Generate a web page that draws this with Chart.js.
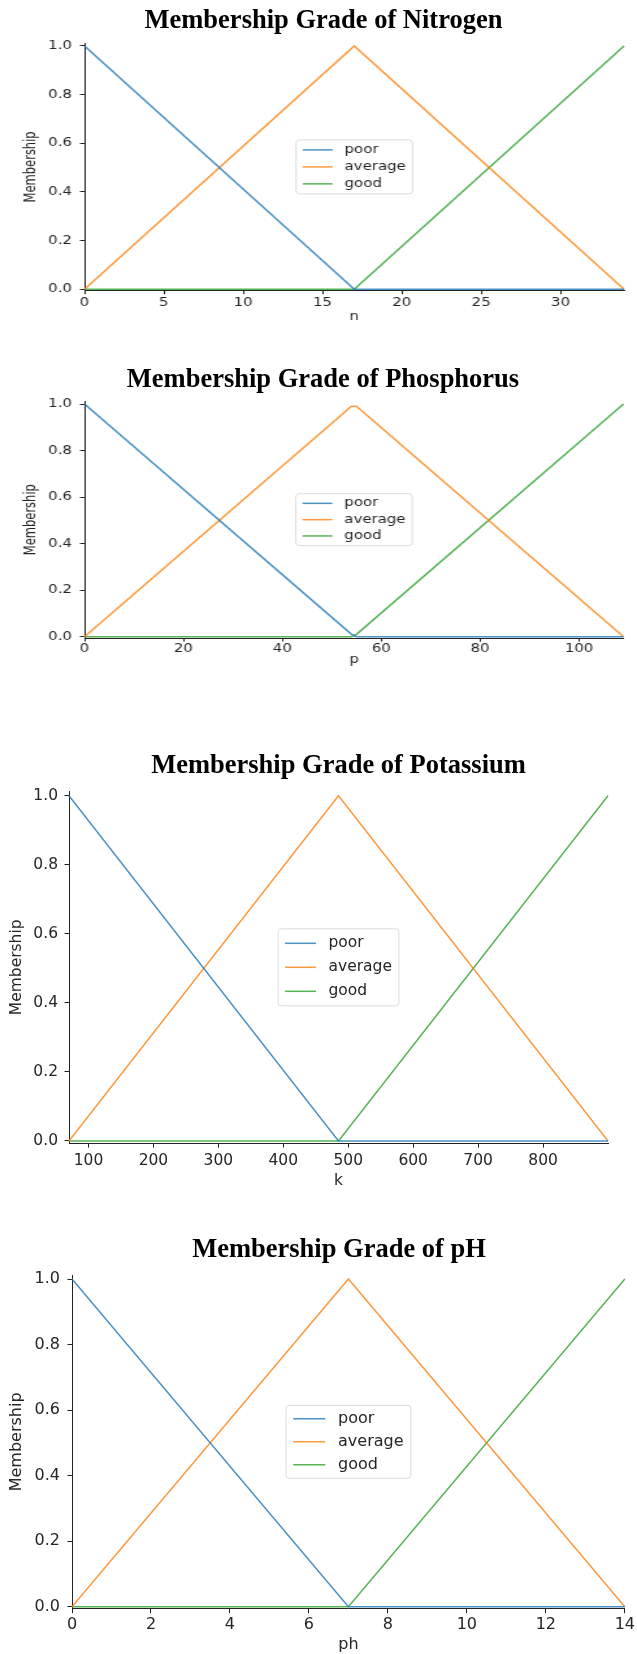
<!DOCTYPE html>
<html>
<head>
<meta charset="utf-8">
<script src="https://cdn.jsdelivr.net/npm/chart.js@4/dist/chart.umd.min.js"></script>
<style>
  body { margin: 0; background: #fff; width: 637px; height: 1654px; position: relative; overflow: hidden; }
  .title { position: absolute; width: 600px; text-align: center; white-space: nowrap;
           font: bold 26.5px 'Liberation Serif', 'Times New Roman', serif; line-height: 1; color: #000; }
  .wrap { position: absolute; left: 0; transform-origin: 0 0; }
  canvas { display: block; }
</style>
</head>
<body>
<div class="wrap" id="w1"><canvas id="c1"></canvas></div>
<div class="wrap" id="w2"><canvas id="c2"></canvas></div>
<div class="wrap" id="w3"><canvas id="c3"></canvas></div>
<div class="wrap" id="w4"><canvas id="c4"></canvas></div>
<script>
// Series shared by all four plots
const seriesNames = ['poor', 'average', 'good'];
const seriesColors = ['rgba(31,119,180,0.8)', 'rgba(255,127,14,0.8)', 'rgba(44,160,44,0.8)'];
const membershipTicks = [0, 0.2, 0.4, 0.6, 0.8, 1.0];

// Nitrogen
const nitrogenX = [0, 17, 34];
const nitrogenPoor = [1, 0, 0];
const nitrogenAverage = [0, 1, 0];
const nitrogenGood = [0, 0, 1];
const nitrogenTicks = [0, 5, 10, 15, 20, 25, 30];

// Phosphorus (sampled on whole numbers, so the peak is a little flat)
const phosphorusX = [0, 54, 55, 109];
const phosphorusPoor = [1, 0.01, 0, 0];
const phosphorusAverage = [0, 0.99, 0.99, 0];
const phosphorusGood = [0, 0, 0.01, 1];
const phosphorusTicks = [0, 20, 40, 60, 80, 100];

// Potassium
const potassiumX = [70, 485, 900];
const potassiumPoor = [1, 0, 0];
const potassiumAverage = [0, 1, 0];
const potassiumGood = [0, 0, 1];
const potassiumTicks = [100, 200, 300, 400, 500, 600, 700, 800];

// pH
const phX = [0, 7, 14];
const phPoor = [1, 0, 0];
const phAverage = [0, 1, 0];
const phGood = [0, 0, 1];
const phTicks = [0, 2, 4, 6, 8, 10, 12, 14];

const panels = [
  { title: 'Membership Grade of Nitrogen', label: 'n', x: nitrogenX, ys: [nitrogenPoor, nitrogenAverage, nitrogenGood], ticks: nitrogenTicks },
  { title: 'Membership Grade of Phosphorus', label: 'p', x: phosphorusX, ys: [phosphorusPoor, phosphorusAverage, phosphorusGood], ticks: phosphorusTicks },
  { title: 'Membership Grade of Potassium', label: 'k', x: potassiumX, ys: [potassiumPoor, potassiumAverage, potassiumGood], ticks: potassiumTicks },
  { title: 'Membership Grade of pH', label: 'ph', x: phX, ys: [phPoor, phAverage, phGood], ticks: phTicks },
];

// Page geometry of each plot (page pixels)
const layouts = [
  { top: 30, bottom: 335, left: 84.5, right: 624, y1: 45.7, y0: 289.3, sx: 1.3, fs: 11.5, tick: 3.5, padX: 1.4, labelRight: 72, yTitleX: 31.5, xTitleY: 317, legendH: 54, legendRow: 17, titleX: 323.5, titleTop: 5.5 },
  { top: 370, bottom: 690, left: 84.5, right: 623.5, y1: 404, y0: 636.7, sx: 1.3, fs: 11.5, tick: 3.5, padX: 0.7, labelRight: 72, yTitleX: 31.5, xTitleY: 660, legendH: 52, legendRow: 16.3, titleX: 323, titleTop: 365 },
  { top: 740, bottom: 1200, left: 69, right: 608, y1: 795.7, y0: 1141, sx: 1, fs: 15.5, tick: 4.5, padX: 4, labelRight: 58, yTitleX: 17, xTitleY: 1181, legendH: 77, legendRow: 24, titleX: 338.5, titleTop: 751 },
  { top: 1225, bottom: 1654, left: 72, right: 626, y1: 1279, y0: 1606.7, sx: 1, fs: 16, tick: 4.5, padX: 2, labelRight: 60, yTitleX: 17, xTitleY: 1645, legendH: 73, legendRow: 23, titleX: 339, titleTop: 1234.5 },
];

const FONT = "'DejaVu Sans', sans-serif";
const TEXT = '#262626';
const SPINE = '#222222';
const Y_MIN = -0.006;
const Y_MAX = 1.012;

// Legend box drawn in the middle of the plot area
const centerLegend = {
  id: 'centerLegend',
  afterDatasetsDraw(chart, args, opts) {
    const { ctx, chartArea: a } = chart;
    const fs = opts.fontSize;
    ctx.save();
    ctx.font = `${fs}px ${FONT}`;
    const sets = chart.data.datasets;
    const textW = Math.max(...sets.map(d => ctx.measureText(d.label).width));
    const pad = 0.45 * fs, handle = 2 * fs, gap = 0.8 * fs;
    const w = pad * 2 + handle + gap + textW;
    const h = opts.height;
    const cx = (a.left + a.right) / 2, cy = (a.top + a.bottom) / 2;
    const x = cx - w / 2, y = cy - h / 2;
    ctx.beginPath();
    if (ctx.roundRect) ctx.roundRect(x, y, w, h, 3); else ctx.rect(x, y, w, h);
    ctx.fillStyle = 'rgba(255,255,255,0.85)';
    ctx.fill();
    ctx.strokeStyle = '#dcdcdc';
    ctx.lineWidth = 1;
    ctx.stroke();
    sets.forEach((d, i) => {
      const ry = cy + (i - (sets.length - 1) / 2) * opts.rowGap;
      ctx.beginPath();
      ctx.moveTo(x + pad, ry);
      ctx.lineTo(x + pad + handle, ry);
      ctx.strokeStyle = d.borderColor;
      ctx.lineWidth = 1.5;
      ctx.stroke();
      ctx.fillStyle = TEXT;
      ctx.textBaseline = 'middle';
      ctx.textAlign = 'left';
      ctx.fillText(d.label, x + pad + handle + gap, ry);
    });
    ctx.restore();
  }
};

panels.forEach((p, i) => {
  const L = layouts[i];

  const title = document.createElement('div');
  title.className = 'title';
  title.textContent = p.title;
  title.style.left = (L.titleX - 300) + 'px';
  title.style.top = L.titleTop + 'px';
  document.body.appendChild(title);

  const wrap = document.getElementById('w' + (i + 1));
  const canvas = document.getElementById('c' + (i + 1));
  const W = Math.round(637 / L.sx);
  const H = L.bottom - L.top;
  canvas.width = W;
  canvas.height = H;
  canvas.style.width = W + 'px';
  canvas.style.height = H + 'px';
  wrap.style.top = L.top + 'px';
  wrap.style.transform = `scaleX(${L.sx})`;

  const span = L.y0 - L.y1;
  const areaTop = L.y1 - (Y_MAX - 1) * span;
  const areaBottom = L.y0 - Y_MIN * span;
  const font = { family: FONT, size: L.fs };
  const lh = L.fs * 1.2;

  new Chart(canvas, {
    type: 'line',
    data: {
      datasets: p.ys.map((ys, k) => ({
        label: seriesNames[k],
        data: p.x.map((x, j) => ({ x: x, y: ys[j] })),
        borderColor: seriesColors[k],
        borderWidth: 1.5,
        pointRadius: 0,
        tension: 0,
        fill: false,
        clip: false,
      })),
    },
    options: {
      responsive: false,
      animation: false,
      events: [],
      layout: { padding: { top: areaTop - L.top, right: W - L.right / L.sx, left: 0, bottom: 0 } },
      plugins: {
        legend: { display: false },
        tooltip: { enabled: false },
        centerLegend: { fontSize: L.fs, height: L.legendH, rowGap: L.legendRow },
      },
      scales: {
        x: {
          type: 'linear',
          min: p.x[0],
          max: p.x[p.x.length - 1],
          afterBuildTicks: s => { s.ticks = p.ticks.map(v => ({ value: v })); },
          afterFit: s => { s.height = L.bottom - areaBottom; },
          grid: { drawOnChartArea: false, drawTicks: true, tickLength: L.tick, tickColor: SPINE, color: SPINE },
          border: { display: true, color: SPINE, width: 1 },
          ticks: { font: font, color: TEXT, padding: L.padX, maxRotation: 0, autoSkip: false },
          title: { display: true, text: p.label, font: font, color: TEXT,
                   padding: { top: 0, bottom: L.bottom - L.xTitleY - lh / 2 } },
        },
        y: {
          min: Y_MIN,
          max: Y_MAX,
          afterBuildTicks: s => { s.ticks = membershipTicks.map(v => ({ value: v })); },
          afterFit: s => { s.width = L.left / L.sx; },
          grid: { drawOnChartArea: false, drawTicks: true, tickLength: L.tick, tickColor: SPINE, color: SPINE },
          border: { display: true, color: SPINE, width: 1 },
          ticks: { font: font, color: TEXT, padding: (L.left - L.labelRight) / L.sx - L.tick,
                   callback: v => v.toFixed(1) },
          title: { display: true, text: 'Membership', font: font, color: TEXT,
                   padding: { top: L.yTitleX / L.sx - lh / 2, bottom: 0 } },
        },
      },
    },
    plugins: [centerLegend],
  });
});
</script>
</body>
</html>
